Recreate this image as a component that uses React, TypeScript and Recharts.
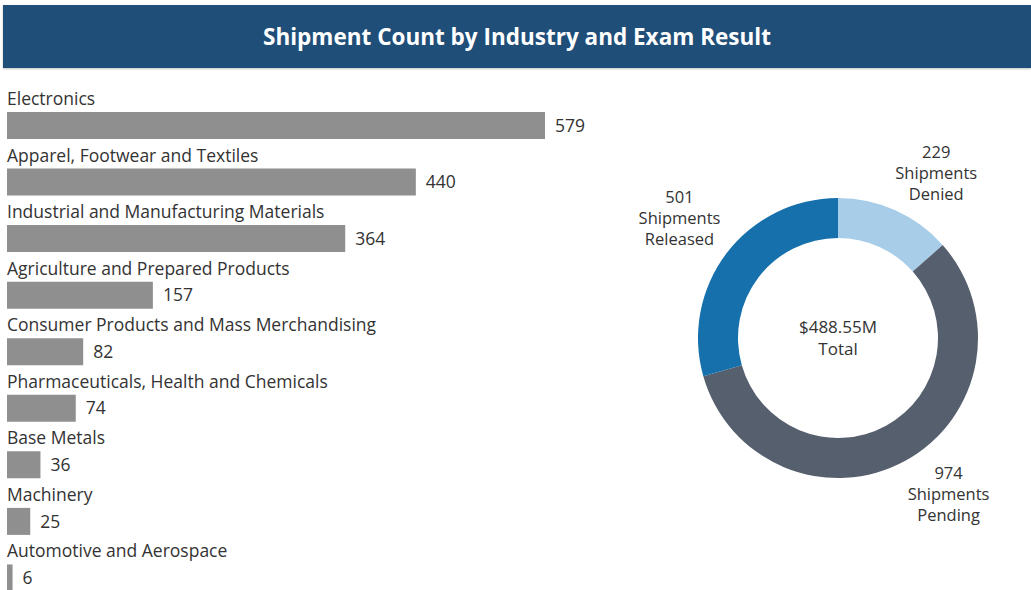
import { Bar, BarChart, Cell, LabelList, Pie, PieChart, XAxis, YAxis } from "recharts";

// industries, sorted by shipment count
const industries = [
  "Electronics",
  "Apparel, Footwear and Textiles",
  "Industrial and Manufacturing Materials",
  "Agriculture and Prepared Products",
  "Consumer Products and Mass Merchandising",
  "Pharmaceuticals, Health and Chemicals",
  "Base Metals",
  "Machinery",
  "Automotive and Aerospace",
];
const shipmentCounts = [579, 440, 364, 157, 82, 74, 36, 25, 6];

// exam results, clockwise from the top
const examResults = ["Denied", "Pending", "Released"];
const examCounts = [229, 974, 501];
const examColors = ["#a7cde9", "#565f6d", "#1570ab"];
const totalLabel = "$488.55M";

const FONT = "'Open Sans', sans-serif";
const TEXT = "#333";

const barData = industries.map((name, i) => ({ name, value: shipmentCounts[i] }));
const pieData = examResults.map((name, i) => ({ name, value: examCounts[i] }));

const RADIAN = Math.PI / 180;
// small nudges so the slice labels sit where the original placed them
const labelNudge = [
  [4, -3],
  [0, 0],
  [25, -13],
];

function NameLabel(props: any) {
  const { x, y, value } = props;
  return (
    <text x={x} y={y - 7} fill={TEXT} fontSize={17.5} fontFamily={FONT}>
      {value}
    </text>
  );
}

function SliceLabel(props: any) {
  const { cx, cy, midAngle, index } = props;
  // labels sit on an ellipse around the donut
  const x = cx + 230 * Math.cos(-midAngle * RADIAN) + labelNudge[index][0];
  const y = cy + 178 * Math.sin(-midAngle * RADIAN) + labelNudge[index][1];
  return (
    <text x={x} y={y} fill={TEXT} fontSize={16.5} fontFamily={FONT} textAnchor="middle">
      <tspan x={x} dy={-15}>{examCounts[index]}</tspan>
      <tspan x={x} dy={21}>Shipments</tspan>
      <tspan x={x} dy={21}>{examResults[index]}</tspan>
    </text>
  );
}

export default function App() {
  return (
    <div
      style={{
        position: "absolute",
        left: 0,
        top: 0,
        width: 1031,
        height: 590,
        overflow: "hidden",
        background: "#fff",
        fontFamily: FONT,
      }}
    >
      <div
        style={{
          position: "absolute",
          left: 3,
          top: 5,
          width: 1028,
          height: 63,
          background: "#1f4e79",
          boxShadow: "0 1px 2px rgba(0,0,0,0.25)",
          color: "#fff",
          fontWeight: 700,
          fontSize: 22.5,
          lineHeight: "63px",
          textAlign: "center",
        }}
      >
        Shipment Count by Industry and Exam Result
      </div>

      <div style={{ position: "absolute", left: 0, top: 0 }}>
        <BarChart
          width={600}
          height={606}
          data={barData}
          layout="vertical"
          margin={{ top: 97, right: 55, bottom: 0, left: 7 }}
        >
          <XAxis type="number" domain={[0, 579]} hide />
          <YAxis type="category" dataKey="name" hide />
          <Bar dataKey="value" fill="#8f8f8f" barSize={27} isAnimationActive={false}>
            <LabelList dataKey="name" content={NameLabel} />
            <LabelList
              dataKey="value"
              position="right"
              offset={10}
              fill={TEXT}
              fontSize={17.5}
              fontFamily={FONT}
            />
          </Bar>
        </BarChart>
      </div>

      <div style={{ position: "absolute", left: 600, top: 0 }}>
        <PieChart width={431} height={590} margin={{ top: 0, right: 0, bottom: 0, left: 0 }}>
          <Pie
            data={pieData}
            dataKey="value"
            cx={238}
            cy={338}
            innerRadius={100}
            outerRadius={140}
            startAngle={90}
            endAngle={-270}
            stroke="none"
            label={SliceLabel}
            labelLine={false}
            isAnimationActive={false}
          >
            {pieData.map((d, i) => (
              <Cell key={d.name} fill={examColors[i]} />
            ))}
          </Pie>
          <text x={238} y={333} textAnchor="middle" fill={TEXT} fontSize={17} fontFamily={FONT}>
            {totalLabel}
          </text>
          <text x={238} y={355} textAnchor="middle" fill={TEXT} fontSize={17} fontFamily={FONT}>
            Total
          </text>
        </PieChart>
      </div>
    </div>
  );
}
